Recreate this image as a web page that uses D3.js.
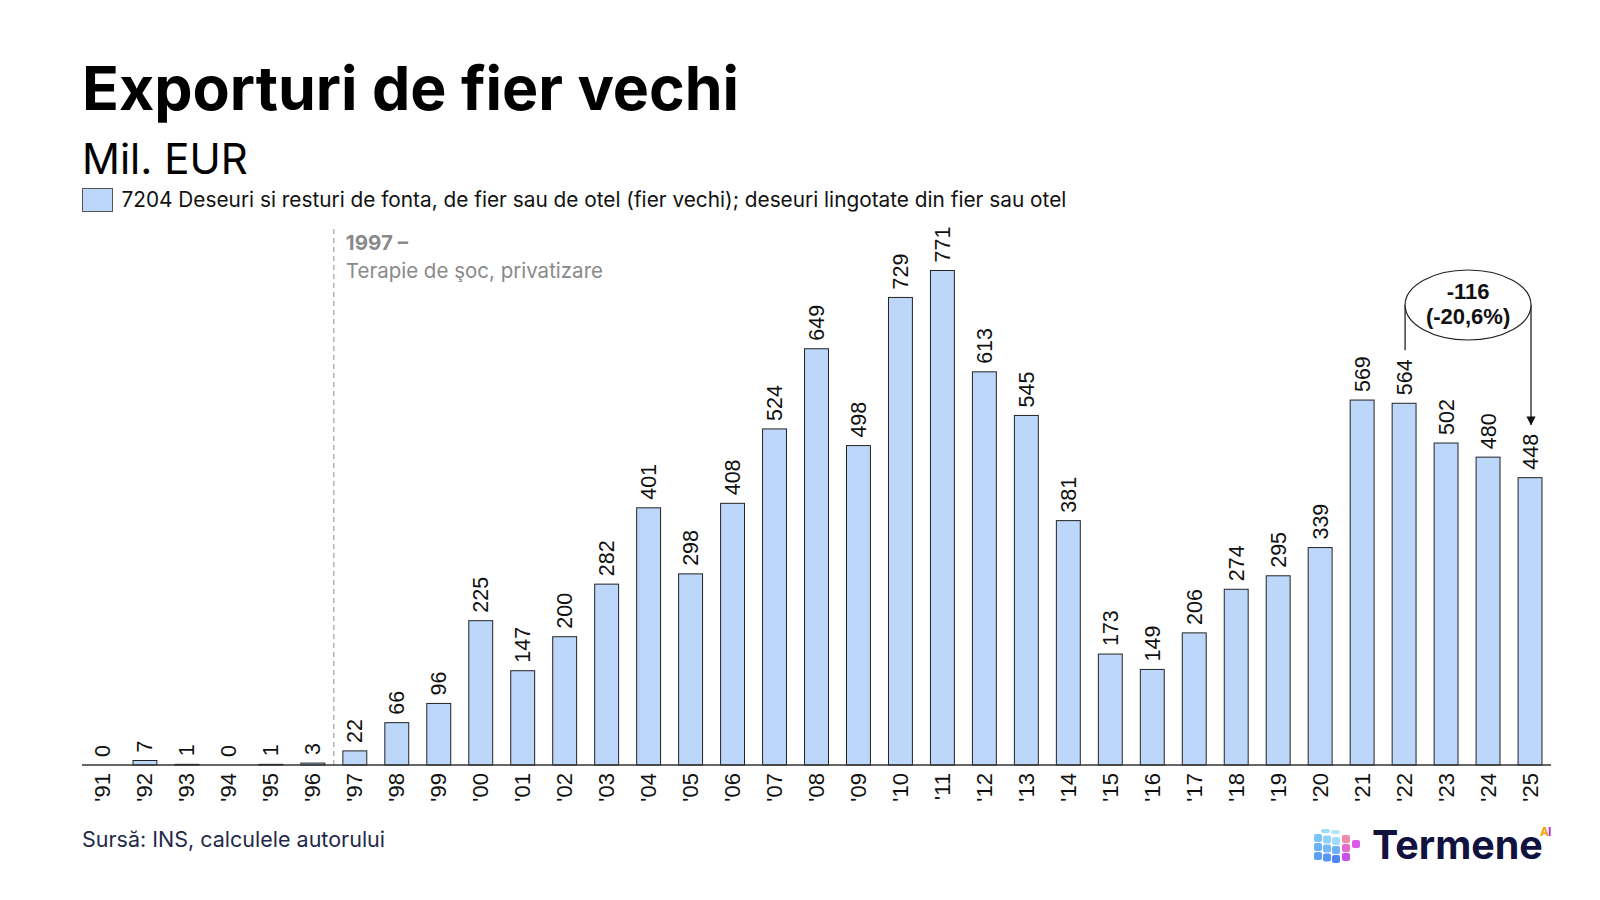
<!DOCTYPE html>
<html><head><meta charset="utf-8">
<script src="https://cdn.jsdelivr.net/npm/d3@7"></script>
<style>body{margin:0;background:#fff;}svg{display:block;}</style>
</head><body>
<svg id="c" width="1600" height="900"></svg>
<script>
const years = ["'91","'92","'93","'94","'95","'96","'97","'98","'99","'00","'01","'02","'03","'04","'05","'06","'07","'08","'09","'10","'11","'12","'13","'14","'15","'16","'17","'18","'19","'20","'21","'22","'23","'24","'25"];
const values = [0,7,1,0,1,3,22,66,96,225,147,200,282,401,298,408,524,649,498,729,771,613,545,381,173,149,206,274,295,339,569,564,502,480,448];
const seriesName = "7204 Deseuri si resturi de fonta, de fier sau de otel (fier vechi); deseuri lingotate din fier sau otel";
const annotation = ["-116","(-20,6%)"];

const svg = d3.select("#c");
const base = 765;
const x = d3.scaleBand().domain(years).range([82,1551]).paddingInner(0.43).paddingOuter(0.215);
const y = d3.scaleLinear().domain([0,771]).range([base,270.5]);
const sans = "Inter, 'Noto Sans', sans-serif";
const arial = "'Liberation Sans', Arial, sans-serif";
const defs = svg.append("defs");

// Title
svg.append("text").attr("x",82).attr("y",110).attr("font-family",sans).attr("font-weight",700).attr("font-size",60.8).attr("fill","#000").text("Exporturi de fier vechi");
svg.append("text").attr("x",82).attr("y",173.5).attr("font-family",sans).attr("font-size",42).attr("fill","#000").text("Mil. EUR");
// Legend
svg.append("rect").attr("x",82.5).attr("y",188.5).attr("width",30).attr("height",23).attr("fill","#bdd7fb").attr("stroke","#555").attr("stroke-width",1);
svg.append("text").attr("x",121.5).attr("y",207).attr("font-family",sans).attr("font-size",20.8).attr("fill","#111").text(seriesName);

// Dashed event line
const evX = (x("'96")+x("'97")+x.bandwidth())/2;
svg.append("line").attr("x1",evX).attr("x2",evX).attr("y1",229).attr("y2",base).attr("stroke","#aaa").attr("stroke-width",1.3).attr("stroke-dasharray","5,4");
svg.append("text").attr("x",evX+12).attr("y",250).attr("font-family",sans).attr("font-weight",700).attr("font-size",20.5).attr("fill","#8a8a8a").text("1997 –");
svg.append("text").attr("x",evX+12).attr("y",277.5).attr("font-family",sans).attr("font-size",20.5).attr("fill","#8a8a8a").text("Terapie de şoc, privatizare");

// Bars
svg.append("g").selectAll("rect").data(values).join("rect")
  .attr("x",(d,i)=>x(years[i])).attr("y",d=>y(d)).attr("width",x.bandwidth()).attr("height",d=>base-y(d))
  .attr("fill","#bdd7fb").attr("stroke","#222").attr("stroke-width",1);

// Value labels
svg.append("g").selectAll("text").data(values).join("text")
  .attr("transform",(d,i)=>`translate(${x(years[i])+x.bandwidth()/2+7.5},${y(d)-8}) rotate(-90)`)
  .attr("font-family",arial).attr("font-size",21.5).attr("fill","#111").text(d=>d);

// Axis
svg.append("line").attr("x1",82).attr("x2",1551).attr("y1",base).attr("y2",base).attr("stroke","#333").attr("stroke-width",1.5);
svg.append("g").selectAll("text").data(years).join("text")
  .attr("transform",d=>`translate(${x(d)+x.bandwidth()/2+7.5},${base+8}) rotate(-90)`)
  .attr("text-anchor","end")
  .attr("font-family",arial).attr("font-size",22).attr("fill","#111").text(d=>d);

// Annotation
const i22 = years.indexOf("'22"), i25 = years.indexOf("'25");
const x22 = x(years[i22])+x.bandwidth()/2+1, x25 = x(years[i25])+x.bandwidth()/2+1;
const ecx = (x22+x25)/2, ecy = 305;
defs.append("marker").attr("id","ar").attr("viewBox","0 0 10 10").attr("refX",9).attr("refY",5).attr("markerWidth",7).attr("markerHeight",7).attr("orient","auto")
  .append("path").attr("d","M0,0L10,5L0,10z").attr("fill","#111");
svg.append("line").attr("x1",x22).attr("x2",x22).attr("y1",y(values[i22])-53).attr("y2",ecy).attr("stroke","#222").attr("stroke-width",1.3);
svg.append("line").attr("x1",x25).attr("x2",x25).attr("y1",ecy).attr("y2",y(values[i25])-53).attr("stroke","#222").attr("stroke-width",1.3).attr("marker-end","url(#ar)");
svg.append("ellipse").attr("cx",ecx).attr("cy",ecy).attr("rx",(x25-x22)/2).attr("ry",35).attr("fill","#fff").attr("stroke","#222").attr("stroke-width",1.2);
svg.append("text").attr("x",ecx).attr("y",ecy-6).attr("text-anchor","middle").attr("font-family",arial).attr("font-weight",700).attr("font-size",22).attr("fill","#111").text(annotation[0]);
svg.append("text").attr("x",ecx).attr("y",ecy+19).attr("text-anchor","middle").attr("font-family",arial).attr("font-weight",700).attr("font-size",22).attr("fill","#111").text(annotation[1]);

// Source
svg.append("text").attr("x",82).attr("y",847).attr("font-family",sans).attr("font-size",21.5).attr("fill","#1f2a4a").text("Sursă: INS, calculele autorului");

// Logo icon (isometric cube of rounded cells)
const lg = svg.append("g").attr("transform","translate(1314,829)");
const leftCols = [["#7cc4fa","#6ab2f8","#5e9ff7"],["#8fd2fa","#74b9f8","#5a96f5"],["#a3dcfa","#6eb0f6","#4f86f3"]];
for(let c=0;c<3;c++)for(let r=0;r<3;r++){
  lg.append("rect").attr("x",c*9).attr("y",r*9+5+c*1.5).attr("width",8).attr("height",8).attr("rx",2).attr("fill",leftCols[c][r]);
}
lg.append("rect").attr("x",7).attr("y",0).attr("width",9).attr("height",4).attr("rx",2).attr("fill","#9adcf9");
lg.append("rect").attr("x",17).attr("y",1).attr("width",9).attr("height",4).attr("rx",2).attr("fill","#b5e4fa");
lg.append("rect").attr("x",28).attr("y",6).attr("width",8).attr("height",8).attr("rx",2).attr("fill","#f08aa8");
lg.append("rect").attr("x",28).attr("y",15).attr("width",8).attr("height",8).attr("rx",2).attr("fill","#e36bd0");
lg.append("rect").attr("x",28).attr("y",24).attr("width",8).attr("height",8).attr("rx",2).attr("fill","#c850ea");
lg.append("rect").attr("x",38).attr("y",11).attr("width",8).attr("height",8).attr("rx",2).attr("fill","#d95be8");
svg.append("text").attr("x",1372).attr("y",859).attr("font-family",sans).attr("font-weight",700).attr("font-size",39.5).attr("fill","#12123f").text("Termene");
svg.append("text").attr("x",1540).attr("y",836).attr("font-family",sans).attr("font-weight",700).attr("font-size",12).attr("fill","#f59e0b").text("A");
svg.append("text").attr("x",1548).attr("y",836).attr("font-family",sans).attr("font-weight",700).attr("font-size",12).attr("fill","#c026d3").text("I");
</script>
</body></html>
